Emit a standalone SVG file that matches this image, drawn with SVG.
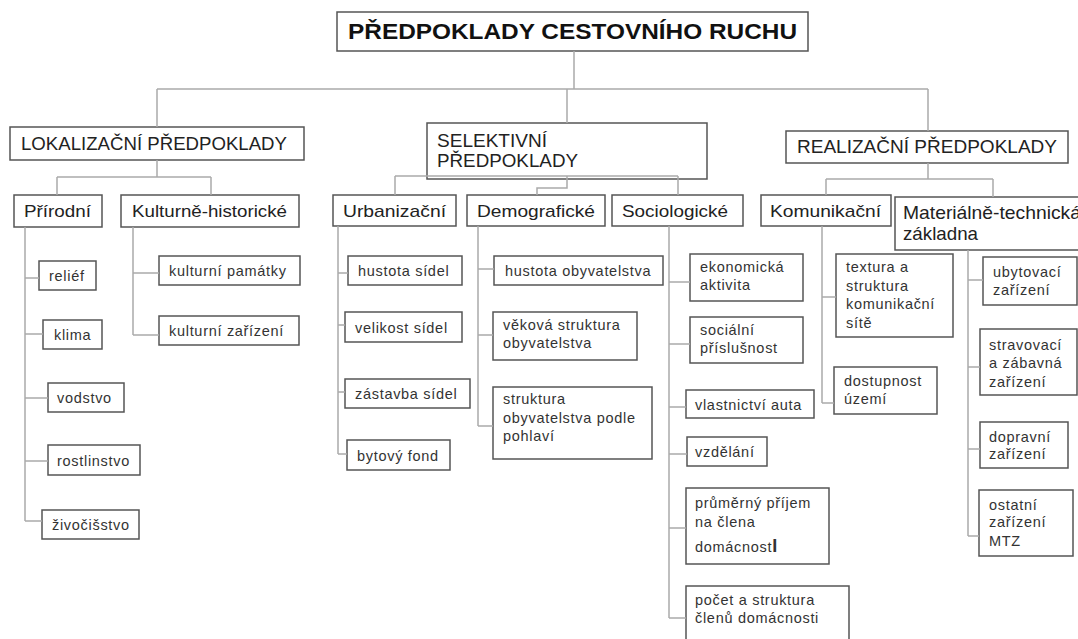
<svg xmlns="http://www.w3.org/2000/svg" width="1078" height="639" viewBox="0 0 1078 639">
<style>
.box{fill:#fff;stroke:#555;stroke-width:1.5}
.con{fill:none;stroke:#aaa;stroke-width:1.5}
text{font-family:"Liberation Sans",Arial,sans-serif;fill:#222}
.t0{font-size:22px;font-weight:bold;fill:#111}
.t1{font-size:18.5px}
.t2{font-size:17px}
.t3{font-size:14.5px;letter-spacing:0.7px;fill:#333}
</style>
<rect width="1078" height="639" fill="#fff"/>
<g id="title"><rect class="box" x="337" y="12" width="471" height="39"/><text class="t0" x="348" y="39" textLength="449" lengthAdjust="spacingAndGlyphs">PŘEDPOKLADY CESTOVNÍHO RUCHU</text></g>
<g id="lokalizacni"><rect class="box" x="10" y="127" width="294" height="33"/><text class="t1" x="21" y="150" textLength="266" lengthAdjust="spacingAndGlyphs">LOKALIZAČNÍ PŘEDPOKLADY</text></g>
<g id="selektivni"><rect class="box" x="427" y="123" width="280" height="56"/><text class="t1" x="437" y="147" textLength="110" lengthAdjust="spacingAndGlyphs">SELEKTIVNÍ</text><text class="t1" x="437" y="167" textLength="141" lengthAdjust="spacingAndGlyphs">PŘEDPOKLADY</text></g>
<g id="realizacni"><rect class="box" x="786" y="131" width="282" height="32"/><text class="t1" x="797" y="153" textLength="260" lengthAdjust="spacingAndGlyphs">REALIZAČNÍ PŘEDPOKLADY</text></g>
<g id="prirodni"><rect class="box" x="14" y="195" width="88" height="32"/><text class="t2" x="24" y="217" textLength="67" lengthAdjust="spacingAndGlyphs">Přírodní</text></g>
<g id="kulturne-historicke"><rect class="box" x="121" y="195" width="178" height="32"/><text class="t2" x="132" y="217" textLength="155" lengthAdjust="spacingAndGlyphs">Kulturně-historické</text></g>
<g id="relief"><rect class="box" x="39" y="261" width="57" height="29"/><text class="t3" x="49" y="281">reliéf</text></g>
<g id="klima"><rect class="box" x="43" y="320" width="59" height="29"/><text class="t3" x="54" y="340">klima</text></g>
<g id="vodstvo"><rect class="box" x="48" y="383" width="76" height="29"/><text class="t3" x="57" y="403">vodstvo</text></g>
<g id="rostlinstvo"><rect class="box" x="48" y="445" width="92" height="30"/><text class="t3" x="57" y="466">rostlinstvo</text></g>
<g id="zivocisstvo"><rect class="box" x="42" y="510" width="97" height="29"/><text class="t3" x="52" y="530">živočišstvo</text></g>
<g id="kulturni-pamatky"><rect class="box" x="159" y="256" width="141" height="29"/><text class="t3" x="169" y="276">kulturní památky</text></g>
<g id="kulturni-zarizeni"><rect class="box" x="159" y="316" width="140" height="29"/><text class="t3" x="169" y="336">kulturní zařízení</text></g>
<g id="urbanizacni"><rect class="box" x="333" y="195" width="123" height="31"/><text class="t2" x="343" y="217" textLength="103" lengthAdjust="spacingAndGlyphs">Urbanizační</text></g>
<g id="demograficke"><rect class="box" x="467" y="195" width="138" height="31"/><text class="t2" x="477" y="217" textLength="118" lengthAdjust="spacingAndGlyphs">Demografické</text></g>
<g id="sociologicke"><rect class="box" x="612" y="195" width="131" height="31"/><text class="t2" x="622" y="217" textLength="106" lengthAdjust="spacingAndGlyphs">Sociologické</text></g>
<g id="hustota-sidel"><rect class="box" x="348" y="256" width="114" height="29"/><text class="t3" x="358" y="276">hustota sídel</text></g>
<g id="velikost-sidel"><rect class="box" x="345" y="312" width="117" height="30"/><text class="t3" x="355" y="333">velikost sídel</text></g>
<g id="zastavba-sidel"><rect class="box" x="345" y="379" width="125" height="29"/><text class="t3" x="355" y="399">zástavba sídel</text></g>
<g id="bytovy-fond"><rect class="box" x="347" y="440" width="103" height="30"/><text class="t3" x="357" y="461">bytový fond</text></g>
<g id="hustota-obyvatelstva"><rect class="box" x="494" y="256" width="169" height="29"/><text class="t3" x="505" y="276">hustota obyvatelstva</text></g>
<g id="vekova-struktura"><rect class="box" x="493" y="312" width="144" height="48"/><text class="t3" x="503" y="330">věková struktura</text><text class="t3" x="503" y="348">obyvatelstva</text></g>
<g id="struktura-pohlavi"><rect class="box" x="493" y="387" width="159" height="72"/><text class="t3" x="503" y="404">struktura</text><text class="t3" x="503" y="423">obyvatelstva podle</text><text class="t3" x="503" y="441">pohlaví</text></g>
<g id="ekonomicka-aktivita"><rect class="box" x="690" y="254" width="113" height="47"/><text class="t3" x="700" y="272">ekonomická</text><text class="t3" x="700" y="290">aktivita</text></g>
<g id="socialni-prislusnost"><rect class="box" x="690" y="317" width="113" height="46"/><text class="t3" x="700" y="335">sociální</text><text class="t3" x="700" y="353">příslušnost</text></g>
<g id="vlastnictvi-auta"><rect class="box" x="686" y="390" width="128" height="28"/><text class="t3" x="695" y="410">vlastnictví auta</text></g>
<g id="vzdelani"><rect class="box" x="687" y="437" width="80" height="29"/><text class="t3" x="695" y="457">vzdělání</text></g>
<g id="prumerny-prijem"><rect class="box" x="686" y="488" width="143" height="76"/><text class="t3" x="695" y="508">průměrný příjem</text><text class="t3" x="695" y="527">na člena</text><text class="t3" x="695" y="552">domácnost<tspan font-size="18" font-weight="bold">I</tspan></text></g>
<g id="pocet-struktura"><rect class="box" x="686" y="586" width="163" height="60"/><text class="t3" x="695" y="605">počet a struktura</text><text class="t3" x="695" y="623">členů domácnosti</text></g>
<g id="komunikacni"><rect class="box" x="761" y="195" width="130" height="31"/><text class="t2" x="770" y="217" textLength="111" lengthAdjust="spacingAndGlyphs">Komunikační</text></g>
<g id="materialne-technicka"><rect class="box" x="895" y="197" width="190" height="53"/><text class="t1" x="903" y="219" textLength="178" lengthAdjust="spacingAndGlyphs">Materiálně-technická</text><text class="t1" x="903" y="240" textLength="75" lengthAdjust="spacingAndGlyphs">základna</text></g>
<g id="textura"><rect class="box" x="836" y="254" width="117" height="83"/><text class="t3" x="846" y="272">textura a</text><text class="t3" x="846" y="291">struktura</text><text class="t3" x="846" y="309">komunikační</text><text class="t3" x="846" y="328">sítě</text></g>
<g id="dostupnost"><rect class="box" x="834" y="367" width="103" height="47"/><text class="t3" x="844" y="386">dostupnost</text><text class="t3" x="844" y="404">území</text></g>
<g id="ubytovaci"><rect class="box" x="983" y="257" width="94" height="48"/><text class="t3" x="993" y="277">ubytovací</text><text class="t3" x="993" y="295">zařízení</text></g>
<g id="stravovaci"><rect class="box" x="980" y="329" width="97" height="66"/><text class="t3" x="989" y="350">stravovací</text><text class="t3" x="989" y="368">a zábavná</text><text class="t3" x="989" y="387">zařízení</text></g>
<g id="dopravni"><rect class="box" x="980" y="422" width="88" height="46"/><text class="t3" x="989" y="442">dopravní</text><text class="t3" x="989" y="459">zařízení</text></g>
<g id="ostatni"><rect class="box" x="979" y="490" width="94" height="66"/><text class="t3" x="989" y="510">ostatní</text><text class="t3" x="989" y="527">zařízení</text><text class="t3" x="989" y="546">MTZ</text></g>
<g id="connectors" class="con">
<path d="M574,51V89M157,89H928M157,89V127M567,89V123M928,89V131"/>
<path d="M157,160V177M57,177H211M57,177V195M211,177V195"/>
<path d="M25,227V521M25,278H39M25,334H43M25,398H48M25,461H48M25,521H42"/>
<path d="M133,227V335M133,273H159M133,335H159"/>
<path d="M395,176H678M395,176V195M678,176V195M567,176V188H537V195"/>
<path d="M338,226V454M338,273H348M338,325H345M338,392H345M338,454H347"/>
<path d="M478,226V426M478,269H494M478,335H493M478,426H493"/>
<path d="M669,226V618M669,282H690M669,344H690M669,407H686M669,454H687M669,528H686M669,618H686"/>
<path d="M928,163V179M826,179H993M826,179V195M993,179V197"/>
<path d="M822,226V403M822,297H836M822,403H834"/>
<path d="M968,250V536M968,280H983M968,367H980M968,449H980M968,536H979"/>
</g>
</svg>
